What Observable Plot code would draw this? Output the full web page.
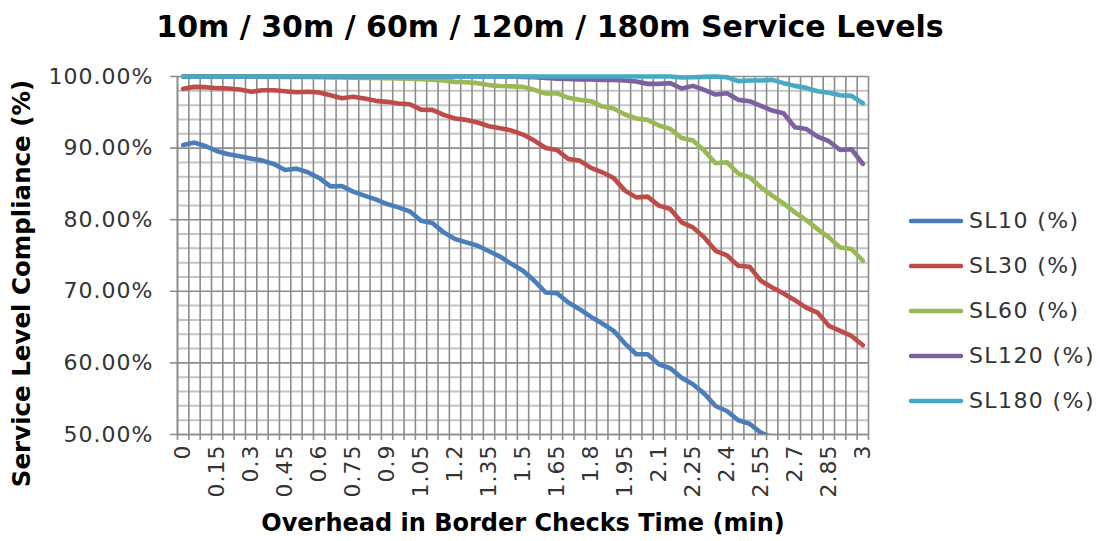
<!DOCTYPE html>
<html>
<head>
<meta charset="utf-8">
<script src="https://cdn.jsdelivr.net/npm/d3@7"></script>
<script src="https://cdn.jsdelivr.net/npm/@observablehq/plot@0.6"></script>
<style>
  html, body { margin: 0; padding: 0; background: #fff; }
  #wrap { position: relative; width: 1100px; height: 541px; overflow: hidden; }
  #title { height: 52px; line-height: 54px; text-align: center; font-family: "DejaVu Sans", Verdana, sans-serif; font-weight: bold; font-size: 30px; color: #000; }
  #legend { position: absolute; left: 908px; top: 198px; font-family: "DejaVu Sans", sans-serif; font-size: 22px; letter-spacing: 1.4px; color: #333; }
  #legend .row { height: 45px; display: flex; align-items: center; }
  #legend svg { margin-right: 5px; }
  .ticklab text { letter-spacing: 1px; }
</style>
</head>
<body>
<div id="wrap">
  <div id="title"></div>
  <div id="chart"></div>
  <div id="legend"></div>
</div>
<script>
const chartTitle = "10m / 30m / 60m / 120m / 180m Service Levels";
const xTitle = "Overhead in Border Checks Time (min)";
const yTitle = "Service Level Compliance (%)";

// Categories (overhead in minutes)
const categories = [0, 0.05, 0.1, 0.15, 0.2, 0.25, 0.3, 0.35, 0.4, 0.45, 0.5, 0.55, 0.6, 0.65, 0.7, 0.75, 0.8, 0.85, 0.9, 0.95,
  1, 1.05, 1.1, 1.15, 1.2, 1.25, 1.3, 1.35, 1.4, 1.45, 1.5, 1.55, 1.6, 1.65, 1.7, 1.75, 1.8, 1.85, 1.9, 1.95,
  2, 2.05, 2.1, 2.15, 2.2, 2.25, 2.3, 2.35, 2.4, 2.45, 2.5, 2.55, 2.6, 2.65, 2.7, 2.75, 2.8, 2.85, 2.9, 2.95, 3];

// Labelled ticks on the category axis
const tickLabels = [0, 0.15, 0.3, 0.45, 0.6, 0.75, 0.9, 1.05, 1.2, 1.35, 1.5, 1.65, 1.8, 1.95, 2.1, 2.25, 2.4, 2.55, 2.7, 2.85, 3];

const yTicks = [50, 60, 70, 80, 90, 100];
const yMinorTicks = [52, 54, 56, 58, 62, 64, 66, 68, 72, 74, 76, 78, 82, 84, 86, 88, 92, 94, 96, 98];

const seriesNames = ["SL10 (%)", "SL30 (%)", "SL60 (%)", "SL120 (%)", "SL180 (%)"];
const seriesColors = ["#4A7EBB", "#BE4B48", "#98B954", "#7D60A0", "#46AAC5"];

const sl10 = [90.44, 90.77, 90.26, 89.56, 89.14, 88.86, 88.53, 88.25, 87.79, 86.95,
  87.13, 86.62, 85.83, 84.66, 84.71, 83.92, 83.36, 82.84, 82.19, 81.72,
  81.17, 79.86, 79.53, 78.23, 77.30, 76.83, 76.36, 75.60, 74.83, 73.80,
  72.86, 71.46, 69.83, 69.74, 68.43, 67.50, 66.43, 65.50, 64.47, 62.70,
  61.21, 61.21, 59.81, 59.25, 57.94, 57.01, 55.71, 53.98, 53.28, 51.98,
  51.51, 50.25, 49.60];

const sl30 = [98.28, 98.55, 98.51, 98.37, 98.32, 98.18, 97.86, 98.09, 98.09, 97.95,
  97.81, 97.86, 97.76, 97.39, 96.97, 97.16, 96.92, 96.60, 96.46, 96.22,
  96.13, 95.38, 95.34, 94.64, 94.13, 93.94, 93.57, 93.05, 92.77, 92.45,
  91.89, 91.05, 90.02, 89.74, 88.48, 88.25, 87.23, 86.62, 85.83, 84.06,
  83.12, 83.22, 81.96, 81.49, 79.63, 78.93, 77.53, 75.66, 75.03, 73.56,
  73.42, 71.46, 70.53, 69.69, 68.76, 67.73, 67.03, 65.17, 64.47, 63.77, 62.47];

const sl60 = [100, 100, 100, 100, 100, 99.98, 99.98, 99.97, 99.96, 99.95,
  99.93, 99.92, 99.90, 99.88, 99.85, 99.84, 99.80, 99.78, 99.75, 99.72,
  99.70, 99.62, 99.55, 99.45, 99.25, 99.20, 99.07, 98.80, 98.68, 98.62,
  98.55, 98.14, 97.62, 97.67, 97.02, 96.74, 96.55, 95.80, 95.52, 94.69,
  94.13, 93.94, 93.15, 92.68, 91.42, 91.05, 89.65, 87.88, 88.02, 86.48,
  85.92, 84.52, 83.36, 82.28, 81.03, 79.95, 78.69, 77.53, 76.13, 75.90, 74.27];

const sl120 = [100, 100, 100, 100, 100, 100, 100, 100, 100, 100,
  100, 100, 100, 100, 100, 100, 100, 100, 100, 100,
  100, 100, 100, 100, 100, 100, 100, 100, 100, 100,
  99.95, 99.90, 99.80, 99.70, 99.65, 99.60, 99.58, 99.53, 99.53, 99.44,
  99.30, 98.97, 98.97, 99.07, 98.32, 98.69, 98.14, 97.48, 97.67, 96.74,
  96.55, 95.90, 95.24, 94.87, 92.91, 92.68, 91.61, 90.96, 89.74, 89.84, 87.79];

const sl180 = [100, 100, 100, 100, 100, 100, 100, 100, 100, 100,
  100, 100, 100, 100, 100, 100, 100, 100, 100, 100,
  100, 100, 100, 100, 100, 100, 100, 100, 100, 100,
  100, 100, 100, 100, 100, 100, 100, 100, 100, 100,
  100, 100, 100, 100, 99.85, 99.90, 99.95, 100, 99.90, 99.35,
  99.44, 99.44, 99.53, 99.07, 98.69, 98.41, 97.95, 97.72, 97.39, 97.30, 96.27];

const seriesValues = [sl10, sl30, sl60, sl120, sl180];

// Build long table
const rows = [];
seriesValues.forEach((vals, s) => {
  vals.forEach((v, i) => rows.push({series: seriesNames[s], x: categories[i], y: v}));
});

const step = categories[1] - categories[0];
const boundaries = categories.map(c => c - step / 2).concat([categories[categories.length - 1] + step / 2]);

const font = "'DejaVu Sans', sans-serif";

document.getElementById("title").textContent = chartTitle;

const lineMarks = seriesNames.map((name, s) =>
  Plot.line(rows.filter(r => r.series === name), {
    x: "x", y: "y",
    stroke: seriesColors[s],
    strokeWidth: 4.6,
    strokeLinejoin: "round",
    strokeLinecap: "round",
    clip: s === 0
  })
);

const chart = Plot.plot({
  width: 1100,
  height: 489,
  marginLeft: 177,
  marginRight: 232,
  marginTop: 24,
  marginBottom: 107,
  style: { fontFamily: font, background: "#fff", overflow: "visible" },
  x: { type: "linear", domain: [boundaries[0], boundaries[boundaries.length - 1]] },
  y: { type: "linear", domain: [50, 100] },
  marks: [
    Plot.gridY({ ticks: yMinorTicks, stroke: "#c4c4c4", strokeOpacity: 1, strokeWidth: 2 }),
    Plot.gridX({ ticks: boundaries, stroke: "#8c8c8c", strokeOpacity: 1, strokeWidth: 1.6 }),
    Plot.gridY({ ticks: yTicks, stroke: "#8c8c8c", strokeOpacity: 1, strokeWidth: 1.6 }),
    // tick marks below the category axis (no text)
    Plot.axisX({ ticks: boundaries, tickFormat: () => "", tickSize: 6, stroke: "#8c8c8c", strokeWidth: 1.6, label: null }),
    // category labels
    Plot.axisX({
      ticks: tickLabels, tickSize: 0, tickPadding: 10, tickRotate: -90,
      tickFormat: d => String(d), fontSize: 22, fill: "#333", label: null, className: "ticklab"
    }),
    Plot.axisY({
      ticks: yTicks, tickSize: 7, tickPadding: 17, stroke: "#8c8c8c", strokeWidth: 1.6,
      tickFormat: d => d.toFixed(2) + "%", fontSize: 22, fill: "#333", label: null, className: "ticklab"
    }),
    Plot.ruleX([boundaries[0]], { stroke: "#8c8c8c", strokeWidth: 1.6 }),
    Plot.ruleY([50], { stroke: "#8c8c8c", strokeWidth: 1.6 }),
    ...lineMarks,
    Plot.text([yTitle], {
      frameAnchor: "left", textAnchor: "middle", rotate: -90, dx: -155, dy: 28, text: d => d,
      fontSize: 24.5, fontWeight: "bold", fill: "#000", fontFamily: font
    }),
    Plot.text([xTitle], {
      frameAnchor: "bottom", textAnchor: "middle", dy: 96, text: d => d,
      fontSize: 24, fontWeight: "bold", fill: "#000", fontFamily: font
    })
  ]
});
document.getElementById("chart").appendChild(chart);

// Legend
const legend = document.getElementById("legend");
seriesNames.forEach((name, s) => {
  const row = document.createElement("div");
  row.className = "row";
  row.innerHTML = `<svg width="56" height="10"><line x1="3" y1="5" x2="53" y2="5" stroke="${seriesColors[s]}" stroke-width="4.5" stroke-linecap="round"/></svg><span>${name}</span>`;
  legend.appendChild(row);
});
</script>
</body>
</html>
